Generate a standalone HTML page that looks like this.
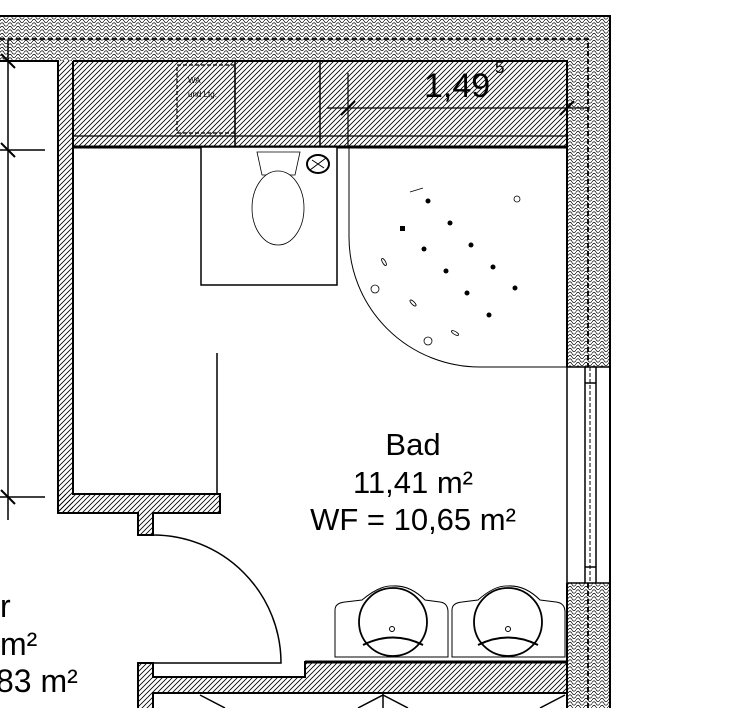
<!DOCTYPE html>
<html><head><meta charset="utf-8"><style>
html,body{margin:0;padding:0;background:#fff;width:740px;height:708px;overflow:hidden}
svg{display:block}
text{font-family:"Liberation Sans",sans-serif;fill:#000}
</style></head><body>
<svg width="740" height="708" viewBox="0 0 740 708" xmlns="http://www.w3.org/2000/svg">
<defs>
<pattern id="hatch" width="5" height="5" patternUnits="userSpaceOnUse">
<path d="M-1 6 L6 -1 M-1 1 L1 -1 M4 6 L6 4" stroke="#000" stroke-width="0.8"/>
</pattern>
<pattern id="ins" width="8" height="7" patternUnits="userSpaceOnUse">
<path d="M0 3.5 Q2 0 4 3.5 T8 3.5 M0 7 Q2 3.5 4 7 T8 7 M0 0 Q2 -3.5 4 0 T8 0" stroke="#000" stroke-width="0.7" fill="none"/>
</pattern>
</defs>

<rect x="0" y="16" width="610" height="45" fill="url(#ins)"/>
<rect x="567" y="61" width="43" height="306" fill="url(#ins)"/>
<rect x="567" y="583" width="43" height="125" fill="url(#ins)"/>
<path d="M0 16 H610 V708" stroke="#000" stroke-width="2" fill="none"/>
<path d="M0 39 H588 V367 M588 583 V708" stroke="#000" stroke-width="1.8" stroke-dasharray="5,3" fill="none"/>

<rect x="73" y="61" width="494" height="86" fill="url(#hatch)"/>
<path d="M73 61 H567 V367" stroke="#000" stroke-width="2" fill="none"/>
<path d="M73 136 H567" stroke="#000" stroke-width="1.2"/>
<path d="M73 147 H567" stroke="#000" stroke-width="3"/>
<path d="M235 61 V147 M320 61 V147" stroke="#000" stroke-width="1.5"/>
<rect x="177" y="65" width="58" height="68" fill="none" stroke="#000" stroke-width="1.2" stroke-dasharray="4,2"/>
<text x="188" y="83" font-size="8" fill="#333">WA</text>
<text x="188" y="97" font-size="8" fill="#333">und Ltg.</text>
<path d="M327 108 H590 M348 73 V147" stroke="#000" stroke-width="1.2"/>
<path d="M341 115 L355 101 M560 115 L574 101" stroke="#000" stroke-width="2"/>
<text x="424" y="97" font-size="34">1,49</text>
<text x="495" y="73" font-size="17">5</text>

<rect x="58" y="61" width="15" height="452" fill="url(#hatch)"/>
<rect x="58" y="494" width="162" height="19" fill="url(#hatch)"/>
<rect x="138" y="513" width="15" height="22" fill="url(#hatch)"/>
<path d="M0 61 H58 V513 H138 V535 H153 V513 H220 V494 H73 V61" stroke="#000" stroke-width="2" fill="none"/>
<path d="M217 353 V494" stroke="#000" stroke-width="1.5"/>
<path d="M8 40 V520 M0 61 H45 M0 150 H45 M0 497 H45" stroke="#000" stroke-width="1.5"/>
<path d="M1 54 L15 68 M1 143 L15 157 M1 490 L15 504" stroke="#000" stroke-width="2"/>

<path d="M153 535 A128 128 0 0 1 281 663 H153" stroke="#000" stroke-width="1.5" fill="none"/>

<rect x="138" y="663" width="15" height="45" fill="url(#hatch)"/>
<rect x="153" y="677" width="414" height="16" fill="url(#hatch)"/>
<rect x="305" y="662" width="262" height="15" fill="url(#hatch)"/>
<path d="M138 708 V663 H153 V677 H305 V662 H567 M153 708 V693 H567" stroke="#000" stroke-width="2" fill="none"/>
<path d="M305 662 H567" stroke="#000" stroke-width="3"/>
<path d="M567 583 V708" stroke="#000" stroke-width="2"/>
<path d="M200 695 L225 708 M383 693 V708 M383 695 L358 708 M383 695 L408 708 M565 695 L540 708" stroke="#000" stroke-width="1.5"/>

<path d="M567 367 H610 M567 583 H610 M567 367 V583 M585 367 V583 M596 367 V583" stroke="#000" stroke-width="1.5" fill="none"/>
<path d="M585 383 H596 M585 567 H596" stroke="#000" stroke-width="1.5"/>
<path d="M590 367 V583" stroke="#000" stroke-width="1" stroke-dasharray="4,2"/>

<rect x="201" y="147" width="136" height="138" fill="#fff" stroke="#000" stroke-width="1.5"/>
<path d="M257 152 H300 L295 175 H262 Z" fill="#fff" stroke="#000" stroke-width="0.8"/>
<ellipse cx="278" cy="208" rx="26" ry="37" fill="#fff" stroke="#000" stroke-width="0.8"/>
<ellipse cx="318" cy="164" rx="11" ry="9" fill="#fff" stroke="#000" stroke-width="2"/>
<path d="M310 170 L326 158 M312 160 L324 168" stroke="#000" stroke-width="1"/>

<path d="M349 147 V237 A131 130 0 0 0 480 367 H567" stroke="#000" stroke-width="1" fill="none"/>
<g fill="#000">
<circle cx="428" cy="201" r="2.5"/><circle cx="450" cy="223" r="2.5"/><rect x="400" y="226" width="5" height="5"/>
<circle cx="424" cy="249" r="2.5"/><circle cx="471" cy="245" r="2.5"/><circle cx="446" cy="271" r="2.5"/>
<circle cx="493" cy="267" r="2.5"/><circle cx="467" cy="293" r="2.5"/><circle cx="515" cy="288" r="2.5"/><circle cx="489" cy="315" r="2.5"/>
</g>
<g fill="none" stroke="#000" stroke-width="0.8">
<circle cx="517" cy="199" r="3"/><circle cx="375" cy="289" r="4"/><circle cx="428" cy="341" r="4"/>
<ellipse cx="384" cy="262" rx="1.5" ry="4" transform="rotate(-30 384 262)"/>
<ellipse cx="413" cy="303" rx="1.5" ry="4" transform="rotate(-45 413 303)"/>
<ellipse cx="455" cy="333" rx="1.5" ry="4" transform="rotate(-60 455 333)"/>
<path d="M410 192 L423 188"/>
</g>

<g fill="none" stroke="#000">
<path d="M335 657 V610 Q335 603 345 602 L362 600 Q380 585 393 586 Q410 585 425 600 L440 602 Q448 603 448 612 V657 Z" stroke-width="1"/>
<path d="M452 657 V610 Q452 603 462 602 L478 600 Q495 585 508 586 Q525 585 540 600 L556 602 Q565 603 565 612 V657 Z" stroke-width="1"/>
<circle cx="393" cy="622" r="34" stroke-width="1.8"/>
<circle cx="508" cy="622" r="34" stroke-width="1.8"/>
<path d="M363 645 Q393 630 423 645 M478 645 Q508 630 538 645" stroke-width="2"/>
<circle cx="392" cy="629" r="2.5" stroke-width="1"/><circle cx="508" cy="629" r="2.5" stroke-width="1"/>
</g>

<text x="413" y="455" font-size="31" text-anchor="middle">Bad</text>
<text x="413" y="493" font-size="31" text-anchor="middle">11,41 m²</text>
<text x="413" y="530" font-size="31" text-anchor="middle">WF = 10,65 m²</text>
<text x="0" y="617" font-size="32">r</text>
<text x="0" y="655" font-size="32">m²</text>
<text x="-4" y="692" font-size="32">83 m²</text>
</svg>
</body></html>
